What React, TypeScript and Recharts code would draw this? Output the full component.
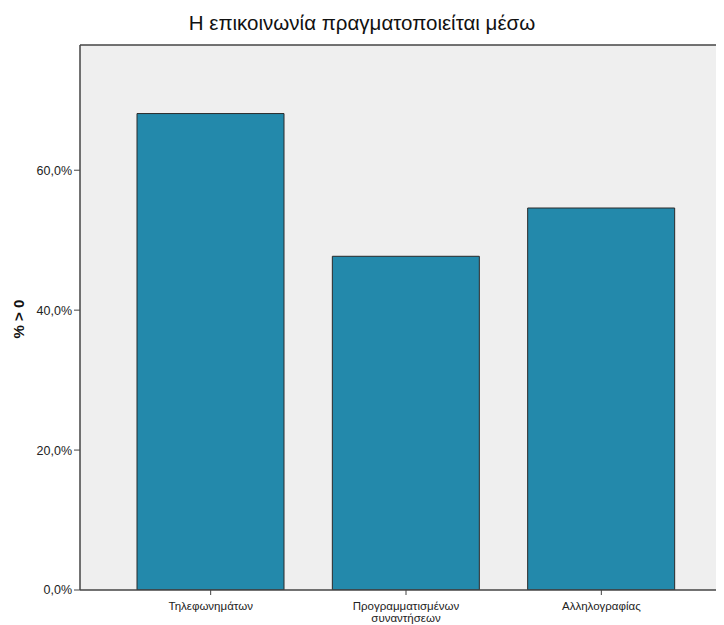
import { BarChart, Bar, XAxis, YAxis, CartesianGrid, ReferenceLine } from "recharts";

const categories = ["Τηλεφωνημάτων", "Προγραμματισμένων συναντήσεων", "Αλληλογραφίας"];
const percents = [68.1, 47.7, 54.6];
const yTicks = [0, 20, 40, 60];
const Y_MAX = 77.9;

const chartData = categories.map((name, i) => ({ name, value: percents[i] }));

const FONT = "'Liberation Sans', Arial, sans-serif";

function CategoryTick(props: any) {
  const { x, y, payload } = props;
  const words = String(payload.value).split(" ");
  return (
    <g transform={`translate(${x},${y})`}>
      {words.map((w, i) => (
        <text key={i} x={0} y={13 + i * 12} textAnchor="middle" fontSize={11.5} fill="#222" fontFamily={FONT}>
          {w}
        </text>
      ))}
    </g>
  );
}

export default function App() {
  return (
    <div style={{ position: "relative", margin: "-8px 0 0 -8px", width: 724, height: 625, overflow: "hidden", background: "#fff" }}>
      <div
        style={{
          position: "absolute",
          top: 11,
          left: 0,
          width: 724,
          textAlign: "center",
          fontFamily: FONT,
          fontSize: 20.5,
          color: "#111",
        }}
      >
        Η επικοινωνία πραγματοποιείται μέσω
      </div>
      <div
        style={{
          position: "absolute",
          left: 18,
          top: 319,
          transform: "translate(-50%, -50%) rotate(-90deg)",
          fontFamily: FONT,
          fontWeight: "bold",
          fontSize: 15,
          whiteSpace: "nowrap",
          color: "#111",
        }}
      >
        % &gt; 0
      </div>
      <div style={{ position: "absolute", left: 0, top: 0 }}>
        <BarChart width={740} height={625} data={chartData} margin={{ top: 45, right: 8, bottom: 0, left: 0 }}>
          <CartesianGrid horizontal={false} vertical={false} fill="#EFEFEF" />
          <XAxis
            dataKey="name"
            height={35}
            padding={{ left: 33, right: 33 }}
            tick={<CategoryTick />}
            tickSize={5}
            axisLine={{ stroke: "#444", strokeWidth: 1.5 }}
            tickLine={{ stroke: "#444" }}
            interval={0}
          />
          <YAxis
            width={80}
            domain={[0, Y_MAX]}
            ticks={yTicks}
            tickSize={6}
            tickFormatter={(v: number) => `${v.toFixed(1).replace(".", ",")}%`}
            tick={{ fontSize: 12.5, fill: "#222", fontFamily: FONT }}
            axisLine={{ stroke: "#444", strokeWidth: 1.5 }}
            tickLine={{ stroke: "#444" }}
            allowDataOverflow
          />
          <ReferenceLine y={Y_MAX} stroke="#444" strokeWidth={1.5} />
          <Bar dataKey="value" fill="#2389AB" stroke="#2a2a2a" strokeWidth={1} barSize={147} isAnimationActive={false} />
        </BarChart>
      </div>
    </div>
  );
}
